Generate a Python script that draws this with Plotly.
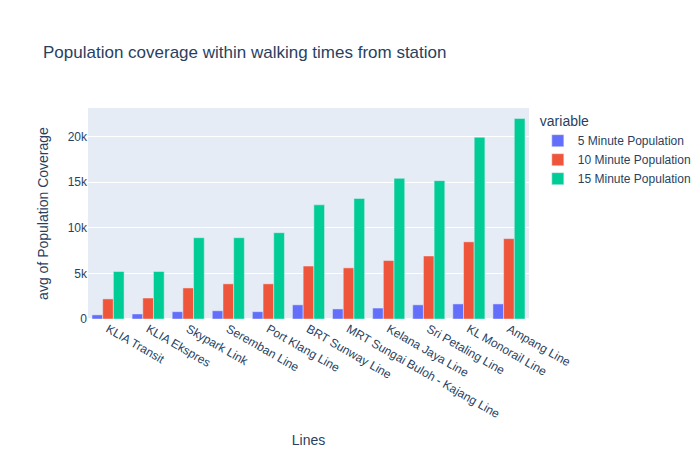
import plotly.graph_objects as go

lines = ["KLIA Transit", "KLIA Ekspres", "Skypark Link", "Seremban Line", "Port Klang Line",
         "BRT Sunway Line", "MRT Sungai Buloh - Kajang Line", "Kelana Jaya Line",
         "Sri Petaling Line", "KL Monorail Line", "Ampang Line"]
pop5 = [450, 550, 800, 900, 800, 1550, 1100, 1200, 1550, 1650, 1650]
pop10 = [2200, 2300, 3400, 3850, 3850, 5800, 5600, 6400, 6900, 8450, 8800]
pop15 = [5200, 5200, 8900, 8900, 9450, 12500, 13200, 15400, 15150, 19900, 21950]

fig = go.Figure()
for name, vals, col in [("5 Minute Population", pop5, "#636efa"),
                        ("10 Minute Population", pop10, "#EF553B"),
                        ("15 Minute Population", pop15, "#00cc96")]:
    fig.add_trace(go.Bar(x=lines, y=vals, name=name, marker_color=col))

fig.update_layout(
    title="Population coverage within walking times from station",
    font_family="Liberation Sans, Arial",
    barmode="group", width=700, height=450,
    legend_title_text="variable",
    xaxis_title="Lines", yaxis_title="avg of Population Coverage",
    xaxis_tickangle=30,
)
fig.write_html("out.html")
